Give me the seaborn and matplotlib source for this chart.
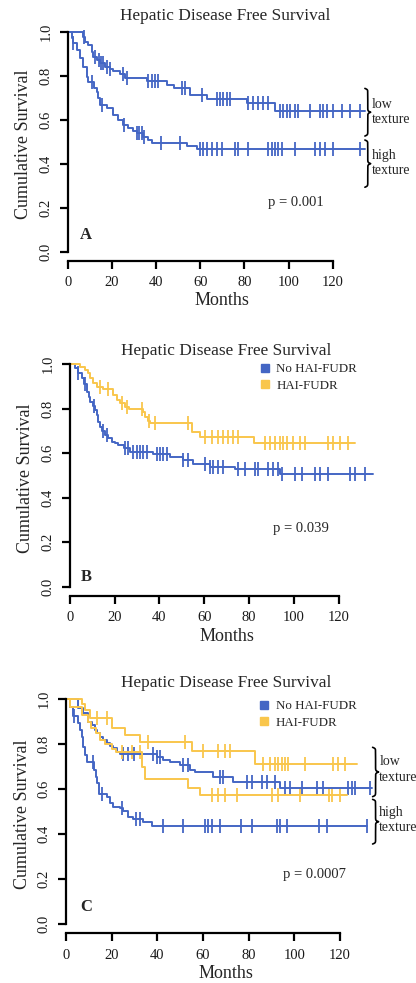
import numpy as np
import pandas as pd
import matplotlib
matplotlib.use("Agg")
import matplotlib.pyplot as plt
from matplotlib.lines import Line2D
import seaborn as sns

# ---------------- data ----------------
# Panel A
a_low_t = [0, 7.1, 7.8, 9.4, 10.9, 11.6, 13.1, 14.6, 16.9, 19.2, 20.7, 23.7, 26.0, 35.8, 44.8, 48.0, 55.4, 63.0, 81.0, 94.0]
a_low_s = [1.0, 0.977, 0.955, 0.94, 0.91, 0.887, 0.87, 0.856, 0.84, 0.833, 0.82, 0.806, 0.79, 0.775, 0.758, 0.743, 0.713, 0.694, 0.675, 0.642]
a_low_end = 134.7
a_low_c = [7.5, 12.4, 14.0, 15.0, 16.0, 17.7, 19.2, 25.2, 26.7, 36.5, 38.0, 39.5, 41.0, 51.6, 53.1, 60.7, 67.5, 69.0,
           70.5, 72.0, 73.5, 81.8, 84.1, 86.4, 88.6, 90.9, 96.2, 97.7, 99.2, 100.7, 102.9, 104.5, 109.7, 114.2, 115.8,
           117.3, 120.3, 124.1, 127.9, 132.4]

a_high_t = [0, 1.8, 2.4, 4.1, 5.6, 7.1, 8.6, 9.4, 11.8, 13.1, 13.9, 14.6, 17.7, 20.7, 22.9, 25.2, 27.5, 29.7, 31.2, 34.3, 36.5, 38.0, 54.0, 58.5]
a_high_s = [1.0, 0.973, 0.95, 0.917, 0.879, 0.841, 0.796, 0.773, 0.745, 0.728, 0.698, 0.668, 0.653, 0.622, 0.6, 0.577, 0.562, 0.551, 0.54, 0.524, 0.509, 0.497, 0.483, 0.468]
a_high_end = 134.5
a_high_c = [2.6, 11.0, 15.5, 25.5, 31.5, 32.5, 33.5, 34.5, 42.3, 50.9, 59.9, 61.4, 63.0, 65.2, 67.5, 69.7, 75.8, 77.3,
            81.8, 90.9, 92.4, 93.9, 95.4, 96.9, 102.9, 112.0, 114.3, 116.6, 120.3, 132.4]

# Panel B
b_no_t = [0, 2.4, 3.6, 5.4, 6.2, 7.6, 8.4, 9.1, 10.5, 11.3, 12.0, 12.8, 13.5, 14.5, 15.7, 17.2, 18.7, 20.2, 21.7, 24.0, 26.9, 37.3, 44.7, 50.7, 55.2, 62.6, 73.7, 93.8]
b_no_s = [1.0, 0.982, 0.96, 0.937, 0.91, 0.877, 0.854, 0.832, 0.814, 0.795, 0.772, 0.742, 0.72, 0.70, 0.682, 0.667, 0.652, 0.645, 0.637, 0.622, 0.607, 0.596, 0.581, 0.568, 0.55, 0.537, 0.527, 0.507]
b_no_end = 135.2
b_no_c = [3.9, 6.8, 11.0, 15.0, 16.5, 24.7, 26.2, 28.4, 29.9, 31.3, 32.8, 34.3, 38.8, 40.3, 41.8, 43.3, 50.7, 52.9,
          60.3, 62.6, 64.0, 66.3, 68.5, 75.2, 78.2, 82.7, 84.1, 88.6, 90.9, 93.1, 94.6, 100.5, 103.5, 109.4, 111.6,
          115.3, 125.0, 127.2, 131.7]

b_hai_t = [0, 4.6, 6.8, 8.3, 9.1, 10.5, 12.0, 15.0, 19.5, 21.0, 22.4, 24.7, 26.5, 32.5, 33.6, 35.0, 36.0, 54.4, 58.1, 82.0]
b_hai_s = [1.0, 0.99, 0.974, 0.96, 0.937, 0.914, 0.9, 0.89, 0.862, 0.84, 0.825, 0.81, 0.8, 0.785, 0.763, 0.745, 0.735, 0.697, 0.674, 0.645]
b_hai_end = 127.3
b_hai_c = [13.5, 17.2, 23.2, 25.4, 32.1, 35.5, 38.1, 52.9, 60.3, 63.3, 66.3, 68.5, 70.7, 73.0, 75.2, 87.1, 89.3, 91.6,
           93.8, 95.3, 96.8, 99.7, 102.7, 104.9, 115.3, 117.6, 120.6, 124.3]

# Panel C
c_nohigh_t = [0, 1.8, 3.0, 5.4, 6.2, 6.9, 7.6, 8.3, 9.0, 12.4, 13.1, 13.6, 14.5, 17.8, 19.3, 20.7, 23.6, 25.1, 27.3, 29.5, 33.9, 37.5]
c_nohigh_s = [1.0, 0.965, 0.926, 0.893, 0.863, 0.834, 0.789, 0.752, 0.722, 0.685, 0.655, 0.626, 0.58, 0.566, 0.536, 0.522, 0.514, 0.5, 0.477, 0.465, 0.455, 0.437]
c_nohigh_end = 131.7
c_nohigh_c = [3.6, 12.0, 15.6, 24.4, 30.5, 32.4, 42.6, 51.4, 60.9, 62.3, 63.8, 67.4, 76.6, 81.6, 92.3, 93.7, 96.8,
              110.8, 114.5, 131.7]

c_nolow_t = [0, 5.4, 7.6, 9.8, 11.2, 12.7, 13.5, 14.9, 16.4, 17.8, 19.3, 20.7, 22.2, 23.5, 39.7, 42.6, 45.5, 49.9, 54.3, 56.5, 64.5, 73.3, 93.7]
c_nolow_s = [1.0, 0.96, 0.938, 0.9, 0.886, 0.863, 0.848, 0.834, 0.819, 0.804, 0.792, 0.782, 0.767, 0.756, 0.744, 0.73, 0.72, 0.707, 0.685, 0.677, 0.655, 0.633, 0.603]
c_nolow_end = 133.9
c_nolow_c = [25.0, 27.3, 30.0, 38.2, 39.7, 41.0, 51.4, 53.6, 67.5, 68.9, 79.1, 81.3, 85.7, 87.9, 91.5, 95.9, 98.1,
             103.2, 109.8, 112.7, 123.7, 125.1, 126.6, 133.2]

c_hailow_t = [0, 6.9, 8.3, 10.5, 20.0, 25.8, 32.4, 55.0, 82.8]
c_hailow_s = [1.0, 0.978, 0.952, 0.915, 0.87, 0.84, 0.808, 0.77, 0.713]
c_hailow_end = 127.3
c_hailow_c = [13.4, 17.8, 36.0, 52.1, 60.1, 66.7, 69.7, 71.8, 86.4, 89.4, 91.5, 93.0, 94.5, 95.9, 97.4, 104.7, 117.1,
              119.3, 122.2]

c_haihigh_t = [0, 1.8, 6.9, 9.8, 11.0, 13.0, 15.0, 17.0, 20.0, 22.0, 33.1, 34.5, 53.6, 58.7]
c_haihigh_s = [1.0, 0.967, 0.93, 0.9, 0.87, 0.85, 0.82, 0.8, 0.78, 0.765, 0.70, 0.644, 0.604, 0.574]
c_haihigh_end = 122.9
c_haihigh_c = [24.4, 28.8, 32.4, 63.8, 66.7, 69.6, 74.9, 90.1, 93.0, 102.6, 115.0, 116.4, 120.1]

y_ticks = [0.0, 0.2, 0.4, 0.6, 0.8, 1.0]
y_labels = ["0.0", "0.2", "0.4", "0.6", "0.8", "1.0"]
x_ticks = [0, 20, 40, 60, 80, 100, 120]
title = "Hepatic Disease Free Survival"
legend_labels = ["No HAI-FUDR", "HAI-FUDR"]

BLUE = "#4466C4"
YELLOW = "#F9C64C"

# ---------------- style ----------------
sns.set_theme(style="ticks")
plt.rcParams["font.family"] = ["Liberation Serif", "DejaVu Serif"]

W, H = 416, 983
fig = plt.figure(figsize=(W / 100, H / 100), dpi=100)


def px_axes(left, top, right, bottom):
    return fig.add_axes([left / W, 1 - bottom / H, (right - left) / W, (bottom - top) / H])


def km(ax, t, s, end, cens, color):
    tt = list(t) + [end]
    ss = list(s) + [s[-1]]
    df = pd.DataFrame({"t": tt, "s": ss})
    sns.lineplot(data=df, x="t", y="s", estimator=None, sort=False, drawstyle="steps-post",
                 color=color, linewidth=1.4, ax=ax, legend=False)
    t_arr = np.asarray(t)
    idx = np.searchsorted(t_arr, np.asarray(cens), side="right") - 1
    cs = np.asarray(s)[idx]
    cdf = pd.DataFrame({"t": cens, "s": cs})
    sns.scatterplot(data=cdf, x="t", y="s", marker="|", s=110, linewidth=1.3, color=color, ax=ax, legend=False)


def brace(ax, x, ylo, yhi, w):
    n = 201
    y = np.linspace(ylo, yhi, n)
    half = y[: n // 2 + 1]
    L = half[-1] - half[0]
    beta = 40.0 / L
    f = (1 / (1 + np.exp(-beta * (half - half[0]))) + 1 / (1 + np.exp(-beta * (half - half[-1])))) - 0.5
    f = np.concatenate([f, f[-2::-1]])
    ax.plot(x + w * f, y, color="black", lw=1.2, clip_on=False)


def style_axes(ax, ybottom):
    ax.set_xlim(0, 140)
    ax.set_ylim(ybottom, 1.02)
    for sp in ["top", "right"]:
        ax.spines[sp].set_visible(False)
    ax.spines["left"].set_bounds(0, 1)
    ax.spines["bottom"].set_bounds(0, 120)
    for sp in ["left", "bottom"]:
        ax.spines[sp].set_linewidth(1.6)
        ax.spines[sp].set_color("black")
    ax.set_xticks(x_ticks)
    ax.set_xticklabels([str(v) for v in x_ticks], fontsize=10.5)
    ax.set_yticks(y_ticks)
    ax.set_yticklabels(y_labels, rotation=90, va="center", fontsize=10.5)
    ax.tick_params(direction="out", length=5.5, width=1.6, color="black", pad=5.5, labelcolor="#1a1a1a")
    ax.set_xlabel("Months", fontsize=13, labelpad=2.5)
    ax.set_ylabel("Cumulative Survival", fontsize=13, labelpad=5)
    ax.grid(False)


# ---------------- Panel A ----------------
axA = px_axes(67.7, 31.7 - 0.02 * 220.6, 67.7 + 140 * 2.208, 260.7)
km(axA, a_low_t, a_low_s, a_low_end, a_low_c, BLUE)
km(axA, a_high_t, a_high_s, a_high_end, a_high_c, BLUE)
style_axes(axA, -0.038)
fig.text(225.5 / W, 1 - 16 / H, title, ha="center", va="center", fontsize=12.4)
axA.text(90.7, 0.225, "p = 0.001", fontsize=10.5, va="center")
axA.text(8.3, 0.078, "A", fontsize=12, fontweight="bold", va="center", ha="center")
brace(axA, 134.6, 0.527, 0.743, 2.6)
brace(axA, 134.6, 0.295, 0.509, 2.6)
for txt, yy in [("low", 0.671), ("texture", 0.60), ("high", 0.441), ("texture", 0.37)]:
    axA.text(137.6, yy, txt, fontsize=10, va="center", ha="left", clip_on=False)

# ---------------- Panel B ----------------
axB = px_axes(69.7, 364.3 - 0.02 * 222.4, 69.7 + 140 * 2.242, 596)
km(axB, b_no_t, b_no_s, b_no_end, b_no_c, BLUE)
km(axB, b_hai_t, b_hai_s, b_hai_end, b_hai_c, YELLOW)
style_axes(axB, -0.042)
fig.text(225.8 / W, 1 - 351 / H, title, ha="center", va="center", fontsize=12.4)
axB.text(90.7, 0.263, "p = 0.039", fontsize=10.5, va="center")
axB.text(7.3, 0.045, "B", fontsize=12, fontweight="bold", va="center", ha="center")

handles = [Line2D([], [], marker="s", linestyle="", color=BLUE, markersize=5.5),
           Line2D([], [], marker="s", linestyle="", color=YELLOW, markersize=5.5)]
axB.legend(handles, legend_labels, loc="upper left", bbox_to_anchor=(260 / W, 1 - 363 / H),
           bbox_transform=fig.transFigure, frameon=False, fontsize=9.3, handlelength=0.7,
           handletextpad=0.55, labelspacing=0.35, borderpad=0, borderaxespad=0)

# ---------------- Panel C ----------------
axC = px_axes(66, 699.3 - 0.02 * 224.4, 66 + 140 * 2.283, 933.3)
km(axC, c_nohigh_t, c_nohigh_s, c_nohigh_end, c_nohigh_c, BLUE)
km(axC, c_nolow_t, c_nolow_s, c_nolow_end, c_nolow_c, BLUE)
km(axC, c_hailow_t, c_hailow_s, c_hailow_end, c_hailow_c, YELLOW)
km(axC, c_haihigh_t, c_haihigh_s, c_haihigh_end, c_haihigh_c, YELLOW)
style_axes(axC, -0.043)
fig.text(225.8 / W, 1 - 682.7 / H, title, ha="center", va="center", fontsize=12.4)
axC.text(94.9, 0.22, "p = 0.0007", fontsize=10.5, va="center")
axC.text(8.8, 0.076, "C", fontsize=12, fontweight="bold", va="center", ha="center")
axC.legend(handles, legend_labels, loc="upper left", bbox_to_anchor=(259.5 / W, 1 - 700 / H),
           bbox_transform=fig.transFigure, frameon=False, fontsize=9.3, handlelength=0.7,
           handletextpad=0.55, labelspacing=0.35, borderpad=0, borderaxespad=0)
brace(axC, 134.3, 0.566, 0.786, 2.6)
brace(axC, 134.3, 0.355, 0.554, 2.6)
for txt, yy in [("low", 0.722), ("texture", 0.652), ("high", 0.496), ("texture", 0.428)]:
    axC.text(137.2, yy, txt, fontsize=10, va="center", ha="left", clip_on=False)

fig.savefig("out.png", dpi=100)
